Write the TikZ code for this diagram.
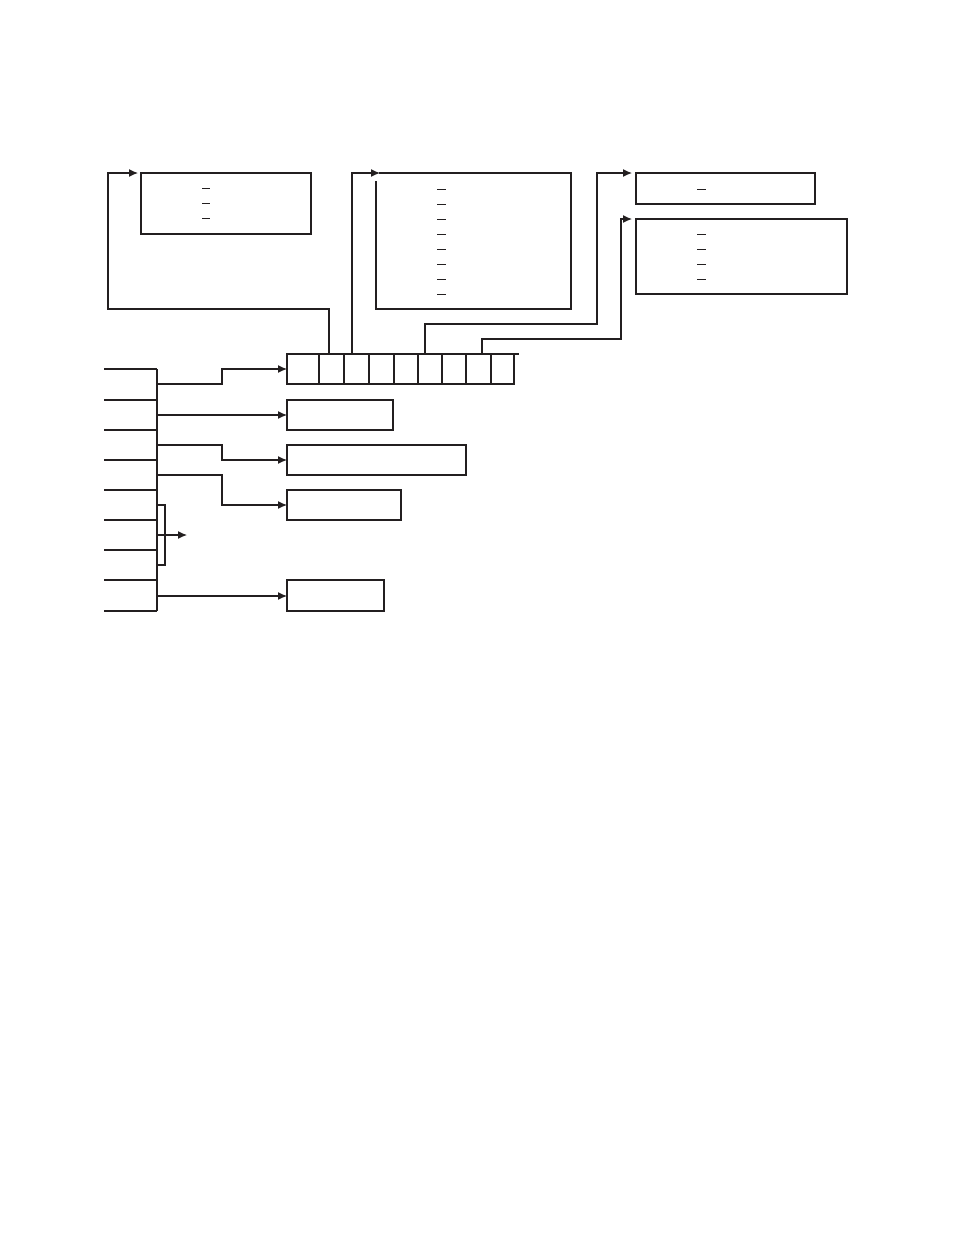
\documentclass[tikz,border=0pt]{standalone}
\usetikzlibrary{arrows.meta,calc}
\definecolor{ink}{RGB}{35,31,32}
\begin{document}
\begin{tikzpicture}[x=1pt,y=-1pt, line width=1.2pt, line join=miter, draw=ink,
  box/.style={draw=ink, rectangle, inner sep=0pt, outer sep=0pt, anchor=north west},
  hollow/.style={rectangle, inner sep=0pt, outer sep=0pt, anchor=north west},
  arr/.style={-{Latex[length=9pt,width=8pt]}},
  dsh/.style={line width=1pt}]
\useasboundingbox (0,0) rectangle (954,1235);

% upper boxes
\node[box, minimum width=170, minimum height=61] (A) at (141,173) {};
\node[hollow, minimum width=195, minimum height=136] (B) at (376,173) {};
\draw ($(B.north west)+(0,8)$) -- (B.south west) -- (B.south east) -- (B.north east) -- ($(B.north west)+(3,0)$);
\node[box, minimum width=179, minimum height=31] (C) at (636,173) {};
\node[box, minimum width=211, minimum height=75] (D) at (636,219) {};

% dashes
\foreach \y in {188,203,218} \draw[dsh] (202,\y) -- (210,\y);
\foreach \y in {189,204,219,234,249,264,279,294} \draw[dsh] (437,\y) -- (446,\y);
\draw[dsh] (697,189) -- (706,189);
\foreach \y in {234,249,264,279} \draw[dsh] (697,\y) -- (706,\y);

% register
\node[box, minimum width=32, minimum height=30] (c1) at (287,354) {};
\node[box, minimum width=25, minimum height=30] (c2) at (319,354) {};
\node[box, minimum width=25, minimum height=30] (c3) at (344,354) {};
\node[box, minimum width=25, minimum height=30] (c4) at (369,354) {};
\node[box, minimum width=24, minimum height=30] (c5) at (394,354) {};
\node[box, minimum width=24, minimum height=30] (c6) at (418,354) {};
\node[box, minimum width=24, minimum height=30] (c7) at (442,354) {};
\node[box, minimum width=25, minimum height=30] (c8) at (466,354) {};
\node[box, minimum width=23, minimum height=30] (c9) at (491,354) {};
\draw (c9.north east) -- ++(5,0);

% lower boxes
\node[box, minimum width=106, minimum height=30] (E) at (287,400) {};
\node[box, minimum width=179, minimum height=30] (F) at (287,445) {};
\node[box, minimum width=114, minimum height=30] (G) at (287,490) {};
\node[box, minimum width=97, minimum height=31] (H) at (287,580) {};

% register to upper boxes
\draw[arr] ($(c2.north west)+(10,0)$) -- ++(0,-45) -| (108,173) -- ($(A.north west)+(-3,0)$);
\draw[arr] ($(c3.north west)+(8,0)$) |- ($(B.north west)+(4,0)$);
\draw[arr] ($(c6.north west)+(7,0)$) -- ++(0,-30) -| (597,173) -- ($(C.north west)+(-4,0)$);
\draw[arr] ($(c8.north west)+(16,0)$) -- ++(0,-15) -| (621,219) -- ($(D.north west)+(-4,0)$);

% bus
\coordinate (bt) at (157,369);
\coordinate (bb) at (157,611);
\draw (bt) -- (bb);
\foreach \y in {369,400,430,460,490,520,550,580,611} \draw (104,\y) -- (157,\y);

\coordinate (t1) at (157,384);
\coordinate (t2) at (157,415);
\coordinate (t3) at (157,445);
\coordinate (t4) at (157,475);
\coordinate (t6) at (157,596);
\draw[arr] (t1) -- (222,384) |- (c1.west);
\draw[arr] (t2 |- E.west) -- (E.west);
\draw[arr] (t3) -- (222,445) |- (F.west);
\draw[arr] (t4) -- (222,475) |- (G.west);
\draw[arr] (t6) -- (t6 -| H.west);

% bracket
\draw (157,505) -- (165,505) -- (165,565) -- (157,565);
\coordinate (bo) at (187,535);
\draw[arr] (157,535) -- (bo);
\end{tikzpicture}
\end{document}
